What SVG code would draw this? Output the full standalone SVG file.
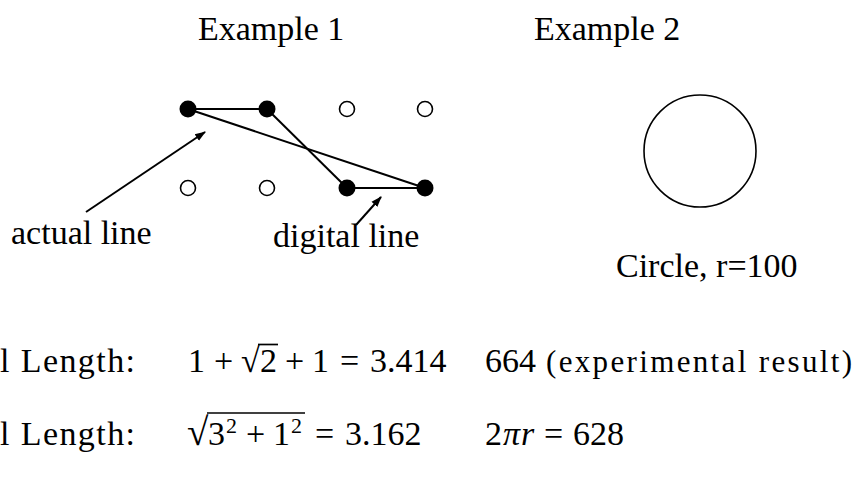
<svg xmlns="http://www.w3.org/2000/svg" width="861" height="491" viewBox="0 0 861 491">
<style>
text{font-family:"Liberation Serif","Times New Roman",serif;font-size:34px;fill:#000}
.small{font-size:31px}
.sup{font-size:22px}
.rad2{font-size:39px}
.dot{fill:#000}
.open{fill:#fff;stroke:#000;stroke-width:1.6}
.edge{stroke:#000;stroke-width:2;fill:none}
.bar{stroke:#000;stroke-width:1.7}
</style>
<defs>
<marker id="ah" viewBox="0 0 10 10" refX="9" refY="5" markerWidth="11" markerHeight="11" markerUnits="userSpaceOnUse" orient="auto"><path d="M0,1.5 L10,5 L0,8.5 z" fill="#000"/></marker>
</defs>
<rect width="861" height="491" fill="#fff"/>
<g id="titles">
<text x="198" y="40">Example 1</text>
<text x="534" y="40">Example 2</text>
</g>
<g id="connectors">
<line class="edge" x1="188" y1="109" x2="267" y2="109"/>
<line class="edge" x1="188" y1="109" x2="425" y2="188"/>
<line class="edge" x1="267" y1="109" x2="347" y2="188"/>
<line class="edge" x1="347" y1="188" x2="425" y2="188"/>
<line class="edge" x1="86" y1="212" x2="205" y2="132" marker-end="url(#ah)"/>
<line class="edge" x1="356" y1="225" x2="381" y2="197" marker-end="url(#ah)"/>
</g>
<g id="p11"><circle class="dot" cx="188" cy="109" r="8.5"/></g>
<g id="p12"><circle class="dot" cx="267" cy="109" r="8.5"/></g>
<g id="p13"><circle class="open" cx="347" cy="109" r="7.5"/></g>
<g id="p14"><circle class="open" cx="425" cy="109" r="7.5"/></g>
<g id="p21"><circle class="open" cx="188" cy="188" r="7.5"/></g>
<g id="p22"><circle class="open" cx="267" cy="188" r="7.5"/></g>
<g id="p23"><circle class="dot" cx="347" cy="188" r="8.5"/></g>
<g id="p24"><circle class="dot" cx="425" cy="188" r="8.5"/></g>
<g id="circle"><circle cx="700" cy="151" r="56" fill="none" stroke="#000" stroke-width="1.6"/></g>
<g id="labels">
<text x="11" y="244">actual line</text>
<text x="273" y="247">digital line</text>
<text x="616" y="277">Circle, r=100</text>
</g>
<g id="row1">
<text x="0" y="372" textLength="135">l Length:</text>
<text y="372"><tspan x="188">1</tspan><tspan x="214">+</tspan><tspan x="241">√</tspan><tspan x="260">2</tspan><tspan x="285">+</tspan><tspan x="312">1</tspan><tspan x="340">=</tspan><tspan x="370">3.414</tspan></text>
<line class="bar" x1="258" y1="344.5" x2="278" y2="344.5"/>
<text x="485" y="372">664</text>
<text class="small" x="546" y="372" textLength="306">(experimental result)</text>
</g>
<g id="row2">
<text x="0" y="445" textLength="135">l Length:</text>
<text y="445"><tspan class="rad2" x="187">√</tspan><tspan x="208">3</tspan><tspan class="sup" x="226" dy="-12">2</tspan><tspan x="246" dy="12">+</tspan><tspan x="273">1</tspan><tspan class="sup" x="291" dy="-12">2</tspan><tspan x="315" dy="12">=</tspan><tspan x="345">3.162</tspan></text>
<line class="bar" x1="207" y1="413" x2="305" y2="413"/>
<text y="445"><tspan x="485">2</tspan><tspan x="503" font-style="italic">π</tspan><tspan x="521" font-style="italic">r</tspan><tspan x="544">=</tspan><tspan x="573">628</tspan></text>
</g>
</svg>
